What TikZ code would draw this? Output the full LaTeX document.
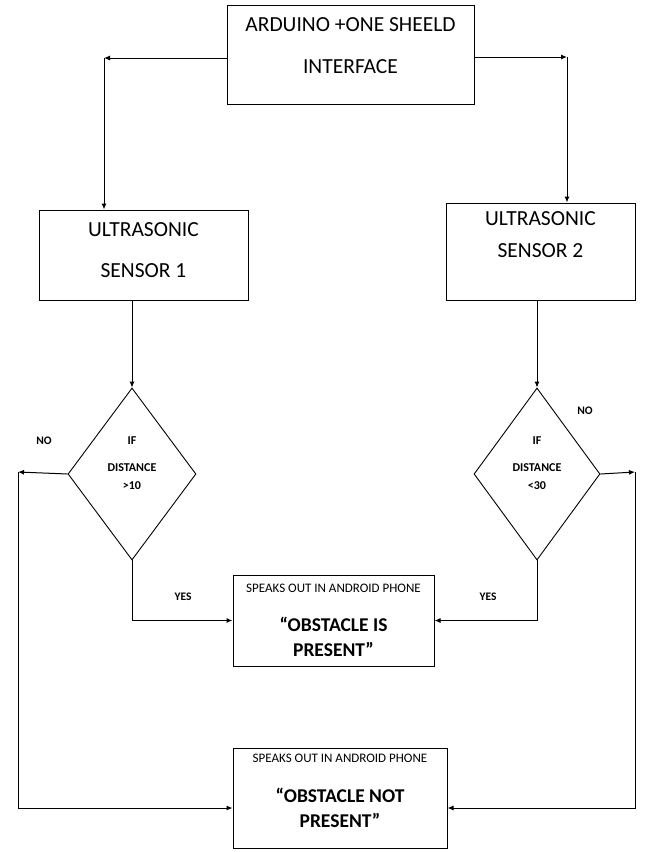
\documentclass[tikz,border=0pt]{standalone}
\usepackage{fontspec}
\setmainfont{Carlito}
\usepackage{tikz}
\usetikzlibrary{shapes.geometric, positioning, arrows.meta}

\begin{document}
\begin{tikzpicture}[x=1pt, y=-1pt]
        % Setup the styles for the boxes, tests and arrows
        \tikzset{box style/.style={draw, rectangle,
                                   line width=1pt,
                                   inner sep=0pt,
                                   align=center,
                                   font=\fontsize{21.5}{25}\selectfont},
                 test style/.style={draw, diamond,
                                    line width=0.9pt,
                                    inner sep=0pt,
                                    align=center,
                                    font=\fontsize{12}{13}\selectfont\bfseries},
                 say style/.style={box style,
                                   font=\fontsize{19.5}{25}\selectfont\bfseries},
                 tag style/.style={font=\fontsize{11.5}{13}\selectfont\bfseries},
                 flow/.style={->, >={Latex[length=6pt, width=5pt]}, line width=1pt}}

        \useasboundingbox (0,0) rectangle (658,852);

        % Draw the boxes and the tests
        \node[box style, minimum width=247pt, minimum height=99pt, text depth=17pt]
            at (350.5, 54.5) (arduino) {ARDUINO +ONE SHEELD\\[17pt]INTERFACE};
        \node[box style, minimum width=209pt, minimum height=90pt, text depth=10pt]
            at (143.5, 255)  (sonar1)  {ULTRASONIC\\[16pt]SENSOR 1};
        \node[box style, minimum width=189pt, minimum height=97pt, text depth=33pt]
            at (540.5, 251.5) (sonar2) {ULTRASONIC\\[7pt]SENSOR 2};
        \node[test style, minimum width=128pt, minimum height=172pt, text depth=22pt]
            at (132, 474)    (test1)   {IF\\[14pt]DISTANCE\\[5pt]>10};
        \node[test style, minimum width=126pt, minimum height=172pt, text depth=22pt]
            at (537, 474)    (test2)   {IF\\[14pt]DISTANCE\\[5pt]<30};
        \node[say style, minimum width=201pt, minimum height=91pt]
            at (333.5, 620.5) (present) {{\fontsize{13}{15}\selectfont\mdseries SPEAKS OUT IN ANDROID PHONE}\\[14pt]“OBSTACLE IS\\PRESENT”};
        \node[say style, minimum width=214pt, minimum height=100pt, text depth=14pt]
            at (340, 798)    (absent)  {{\fontsize{13}{15}\selectfont\mdseries SPEAKS OUT IN ANDROID PHONE}\\[15pt]“OBSTACLE NOT\\PRESENT”};

        % Corners of the connectors
        \coordinate (left top)    at (104, 58);
        \coordinate (right top)   at (567, 57);
        \coordinate (left turn)   at (18, 472);
        \coordinate (left foot)   at (18, 808);
        \coordinate (right turn)  at (635, 472);
        \coordinate (right foot)  at (635, 808);

        % Connect the boxes with arrows
        \draw[flow] (arduino.west |- left top) -- (left top);
        \draw[flow] (left top) -- (sonar1.north -| left top);
        \draw[flow] (arduino.east |- right top) -- (right top);
        \draw[flow] (right top) -- (sonar2.north -| right top);
        \draw[flow] (sonar1.south -| test1.north) -- (test1.north);
        \draw[flow] (sonar2.south -| test2.north) -- (test2.north);
        \draw[flow] (test1.west) -- (left turn);
        \draw[flow] (left turn) -- (left foot) -- (absent.west |- left foot);
        \draw[flow] (test2.east) -- (right turn);
        \draw[flow] (right turn) -- (right foot) -- (absent.east |- right foot);
        \draw[flow] (test1.south) |- (present.west);
        \draw[flow] (test2.south) |- (present.east);

        % Labels of the branches
        \node[tag style] at (44, 441)  (no1)  {NO};
        \node[tag style] at (585, 411) (no2)  {NO};
        \node[tag style] at (183, 597) (yes1) {YES};
        \node[tag style] at (488, 597) (yes2) {YES};
\end{tikzpicture}
\end{document}
